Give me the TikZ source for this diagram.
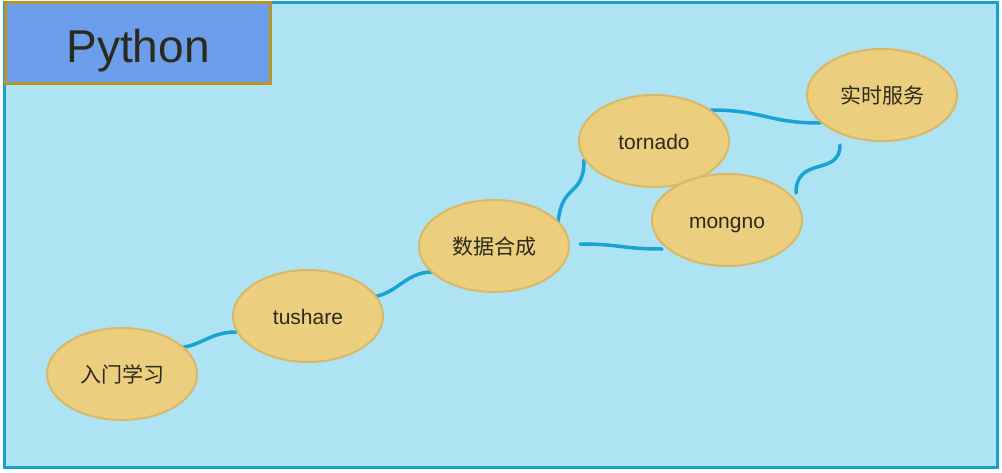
\documentclass[tikz,border=0pt]{standalone}
\usepackage{fontspec}
\setmainfont{Liberation Sans}
\newfontfamily\cjk{Noto Sans CJK SC}
\usetikzlibrary{shapes.geometric,calc}
\definecolor{bgblue}{HTML}{AEE3F3}
\definecolor{frameblue}{HTML}{1A9FD0}
\definecolor{nodefill}{HTML}{EBCF7E}
\definecolor{nodedraw}{HTML}{D8B866}
\definecolor{linkblue}{HTML}{18A2D6}
\definecolor{titlefill}{HTML}{6D9EEB}
\definecolor{titledraw}{HTML}{B8952A}
\definecolor{txt}{HTML}{2B2A1E}
\pgfdeclarelayer{bg}
\pgfdeclarelayer{edges}
\pgfsetlayers{bg,edges,main}
\tikzset{
  topic/.style={ellipse, fill=nodefill, draw=nodedraw, line width=2pt,
    minimum width=150pt, minimum height=92pt, inner sep=0pt,
    text height=17pt, text depth=0pt,
    text=txt, font=\fontsize{21}{24}\selectfont},
  link/.style={draw=linkblue, line width=3.5pt, line cap=round},
  titlebox/.style={rectangle, fill=titlefill, draw=titledraw, line width=3pt,
    minimum width=265pt, minimum height=81pt, inner sep=0pt,
    text height=39pt, text depth=0pt,
    text=txt, font=\fontsize{46}{50}\selectfont}
}
\begin{document}
\begin{tikzpicture}[x=1pt,y=-1pt]
\useasboundingbox (0,0) rectangle (1002,472);
\begin{pgfonlayer}{bg}
  \fill[white] (0,0) rectangle (1002,472);
  \draw[fill=bgblue, draw=frameblue, line width=3pt] (4,2) rectangle (997,467);
\end{pgfonlayer}
\node[titlebox] (title) at (138,42.5) {Python};
\node[topic] (n1) at (122,374) {\cjk 入门学习};
\node[topic] (n2) at (308,316) {tushare};
\node[topic] (n3) at (494,246) {\cjk 数据合成};
\node[topic] (n4) at (654,141) {tornado};
\node[topic] (n5) at (727,220) {mongno};
\node[topic] (n6) at (882,95) {\cjk 实时服务};
\begin{pgfonlayer}{edges}
  \draw[link] ($(n1)+(51,-26)$) .. controls +(28,0) and +(-28,0) .. ($(n2)+(-72,16)$);
  \draw[link] ($(n2)+(60,-19)$) .. controls +(28,0) and +(-28,0) .. ($(n3)+(-62,26)$);
  \draw[link] ($(n3)+(64,-22)$) .. controls +(3,-42) and +(0,38) .. ($(n4)+(-70,19)$);
  \draw[link] ($(n3)+(86,-2)$) .. controls +(40,0) and +(-40,0) .. ($(n5)+(-65,29)$);
  \draw[link] ($(n4)+(57,-31)$) .. controls +(52,0) and +(-52,0) .. ($(n6)+(-62,28)$);
  \draw[link] ($(n5)+(69,-27)$) .. controls +(0,-38) and +(0,32) .. ($(n6)+(-42,50)$);
\end{pgfonlayer}
\end{tikzpicture}
\end{document}
